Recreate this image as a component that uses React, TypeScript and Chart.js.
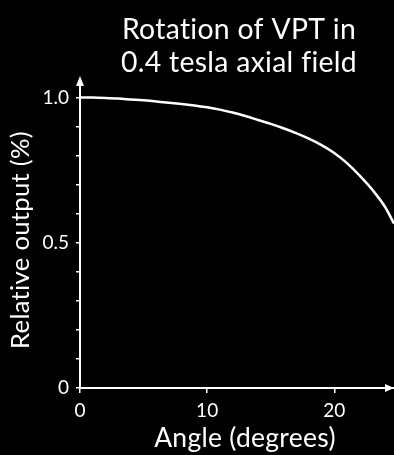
import React, { useEffect, useRef } from "react";
import { Chart, registerables } from "chart.js";

Chart.register(...registerables);

const angles = [0, 1, 2, 3, 4, 5, 6, 7, 8, 9, 10, 11, 12, 13, 14, 15, 16, 17, 18, 19, 20, 21, 22, 23, 24, 24.7];
const relativeOutput = [1.0, 0.9995, 0.998, 0.996, 0.993, 0.99, 0.986, 0.982, 0.9775, 0.9725, 0.966, 0.958, 0.948, 0.936, 0.9225, 0.909, 0.894, 0.877, 0.858, 0.836, 0.809, 0.774, 0.731, 0.682, 0.623, 0.566];
const yLabelTicks = [0, 0.5, 1.0];
const titleLines = ["Rotation of VPT in", "0.4 tesla axial field"];
const xTitle = "Angle (degrees)";
const yTitle = "Relative output (%)";

const FONT = "Lato, 'Open Sans', sans-serif";

function fitFont(ctx: CanvasRenderingContext2D, text: string, target: number, base: number) {
  ctx.font = `${base}px ${FONT}`;
  const w = ctx.measureText(text).width;
  const size = (base * target) / w;
  ctx.font = `${size.toFixed(2)}px ${FONT}`;
}

export default function App() {
  const ref = useRef<HTMLCanvasElement | null>(null);

  useEffect(() => {
    document.body.style.margin = "0";
    document.body.style.background = "#000";
    const canvas = ref.current;
    if (!canvas) return;

    const decor = {
      id: "decor",
      beforeDraw(chart: any) {
        const ctx = chart.ctx;
        ctx.save();
        ctx.fillStyle = "#000";
        ctx.fillRect(0, 0, chart.width, chart.height);
        ctx.restore();
      },
      afterDraw(chart: any) {
        const ctx = chart.ctx;
        const { left, right, top, bottom } = chart.chartArea;
        ctx.save();
        ctx.fillStyle = "#fff";
        // arrowheads
        ctx.beginPath();
        ctx.moveTo(left, top - 4);
        ctx.lineTo(left - 4, top + 6);
        ctx.lineTo(left + 4, top + 6);
        ctx.closePath();
        ctx.fill();
        ctx.beginPath();
        ctx.moveTo(right, bottom);
        ctx.lineTo(right - 9, bottom - 4);
        ctx.lineTo(right - 9, bottom + 4);
        ctx.closePath();
        ctx.fill();
        try {
          (ctx as any).letterSpacing = "0.3px";
        } catch (e) {}
        ctx.textAlign = "center";
        ctx.textBaseline = "alphabetic";
        // title
        fitFont(ctx, titleLines[1], 236, 28);
        ctx.fillText(titleLines[0], 239, 39);
        ctx.fillText(titleLines[1], 239, 72);
        // x title
        fitFont(ctx, xTitle, 182, 25);
        ctx.fillText(xTitle, 245, 447);
        // y title
        ctx.translate(29, 240);
        ctx.rotate(-Math.PI / 2);
        fitFont(ctx, yTitle, 218, 25);
        ctx.fillText(yTitle, 0, 0);
        ctx.restore();
      },
    };

    const chart = new Chart(canvas, {
      type: "line",
      data: {
        datasets: [
          {
            data: angles.map((a, i) => ({ x: a, y: relativeOutput[i] })),
            borderColor: "#fff",
            borderWidth: 2.5,
            pointRadius: 0,
            cubicInterpolationMode: "monotone",
            fill: false,
          },
        ],
      },
      options: {
        animation: false,
        responsive: false,
        maintainAspectRatio: false,
        layout: { padding: { top: 80, left: 0, right: 0, bottom: 0 } },
        plugins: { legend: { display: false }, tooltip: { enabled: false }, title: { display: false } },
        scales: {
          x: {
            type: "linear",
            min: 0,
            max: 24.7,
            afterFit: (s: any) => {
              s.height = 67;
            },
            border: { display: true, color: "#fff", width: 2 },
            grid: { drawOnChartArea: false, drawTicks: true, tickLength: 5, color: "#fff", lineWidth: 1.5 },
            ticks: {
              stepSize: 10,
              includeBounds: false,
              color: "#fff",
              padding: 6,
              maxRotation: 0,
              font: { family: FONT, size: 19 },
              callback: (v: any) => String(v),
            },
          },
          y: {
            type: "linear",
            min: 0,
            max: 1.06,
            afterFit: (s: any) => {
              s.width = 80;
            },
            border: { display: true, color: "#fff", width: 2 },
            grid: { drawOnChartArea: false, drawTicks: true, tickLength: 4, color: "#fff", lineWidth: 1.5 },
            ticks: {
              stepSize: 0.1,
              includeBounds: false,
              color: "#fff",
              padding: 7,
              font: { family: FONT, size: 19 },
              callback: (v: any) => {
                const n = Math.round(Number(v) * 10) / 10;
                if (!yLabelTicks.includes(n)) return "";
                return n === 0 ? "0" : n.toFixed(1);
              },
            },
          },
        },
      },
      plugins: [decor],
    });
    return () => chart.destroy();
  }, []);

  return (
    <div style={{ width: 394, height: 455, background: "#000" }}>
      <canvas ref={ref} width={394} height={455} style={{ display: "block", width: 394, height: 455 }} />
    </div>
  );
}
